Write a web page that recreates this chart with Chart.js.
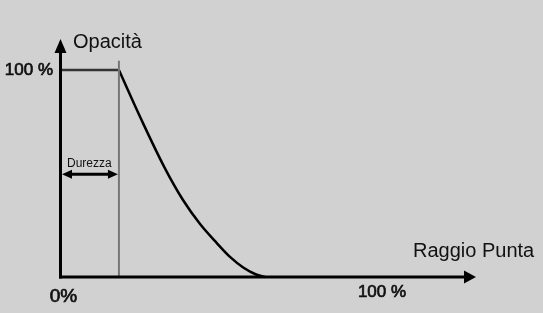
<!DOCTYPE html>
<html><head><meta charset="utf-8">
<script src="https://cdn.jsdelivr.net/npm/chart.js@4"></script>
<style>html,body{margin:0;padding:0;background:#d1d1d1;overflow:hidden}#wrap{width:543px;height:313px}</style>
</head><body><div id="wrap"><canvas id="c" width="543" height="313"></canvas></div>
<script>
// ---- data (percent of radius / percent of opacity) ----
const plateauX = [0, 18.3];
const plateauY = [100, 100];
const curveX = [18.3, 25.4, 32.6, 38.2, 43.5, 48.7, 52.8, 56.9, 60.9, 63.7];
const curveY = [100, 75.6, 52.5, 37.2, 25.6, 16.4, 9.7, 4.6, 1.2, 0];
const hardnessX = [18.3, 18.3];
const hardnessY = [0, 104.5];
const hardnessArrowY = 49.6;
const xTickValues = [0, 100];
const xTickLabels = ['0%', '100 %'];
const yTickValues = [100];
const yTickLabels = ['100 %'];
const xAxisTitle = 'Raggio Punta';
const yAxisTitle = 'Opacità';
const hardnessLabel = 'Durezza';

const pts = (xs, ys) => xs.map((x, i) => ({x, y: ys[i]}));
const FONT = '"Liberation Sans", Arial, sans-serif';

function medText(ctx, t, px, py) {
  ctx.fillText(t, px, py);
  ctx.lineWidth = 0.7; ctx.strokeStyle = ctx.fillStyle;
  ctx.strokeText(t, px, py);
}

const axesPlugin = {
  id: 'axesPlugin',
  afterDatasetsDraw(chart) {
    const {ctx, chartArea: a, scales: {x, y}} = chart;
    const x0 = x.getPixelForValue(0) + 0.5;
    const y0 = y.getPixelForValue(0);
    ctx.save();
    ctx.fillStyle = '#000'; ctx.strokeStyle = '#000'; ctx.lineWidth = 3;
    // y axis
    ctx.beginPath(); ctx.moveTo(x0, y0 + 1.5); ctx.lineTo(x0, a.top + 12); ctx.stroke();
    ctx.beginPath(); ctx.moveTo(x0, a.top); ctx.lineTo(x0 - 6, a.top + 14); ctx.lineTo(x0 + 6, a.top + 14); ctx.closePath(); ctx.fill();
    // x axis
    ctx.beginPath(); ctx.moveTo(x0 - 1.5, y0); ctx.lineTo(a.right - 10, y0); ctx.stroke();
    ctx.beginPath(); ctx.moveTo(a.right, y0); ctx.lineTo(a.right - 12, y0 - 6.5); ctx.lineTo(a.right - 12, y0 + 6.5); ctx.closePath(); ctx.fill();
    // hardness double arrow
    const hy = y.getPixelForValue(hardnessArrowY);
    const hx = x.getPixelForValue(hardnessX[0]) - 1;
    const hl = x0 + 1.5;
    ctx.beginPath(); ctx.moveTo(hl + 6, hy); ctx.lineTo(hx - 6, hy); ctx.stroke();
    ctx.beginPath(); ctx.moveTo(hl, hy); ctx.lineTo(hl + 10, hy - 4.5); ctx.lineTo(hl + 10, hy + 4.5); ctx.closePath(); ctx.fill();
    ctx.beginPath(); ctx.moveTo(hx, hy); ctx.lineTo(hx - 10, hy - 4.5); ctx.lineTo(hx - 10, hy + 4.5); ctx.closePath(); ctx.fill();
    // texts
    ctx.fillStyle = '#111';
    ctx.textBaseline = 'alphabetic';
    ctx.font = '12px ' + FONT; ctx.textAlign = 'left';
    ctx.fillText(hardnessLabel, hl + 5, hy - 7.5);
    ctx.font = '20px ' + FONT;
    ctx.fillText(yAxisTitle, x0 + 12.5, a.top + 9);
    ctx.fillText(xAxisTitle, a.right - 63, y0 - 20.5);
    // y ticks
    ctx.font = '17px ' + FONT; ctx.textAlign = 'right';
    yTickValues.forEach((v, i) => medText(ctx, yTickLabels[i], x0 - 7.5, y.getPixelForValue(v) + 4.5));
    // x ticks
    ctx.textAlign = 'center';
    xTickValues.forEach((v, i) => {
      ctx.font = (i === 0 ? '19px ' : '17px ') + FONT;
      const px = x.getPixelForValue(v) + (i === 0 ? 3.5 : 0);
      medText(ctx, xTickLabels[i], px, y0 + (i === 0 ? 25 : 20));
    });
    ctx.restore();
  }
};

new Chart(document.getElementById('c'), {
  type: 'scatter',
  data: {
    datasets: [
      {data: pts(hardnessX, hardnessY), showLine: true, borderColor: '#767676', borderWidth: 2, pointRadius: 0, clip: false},
      {data: pts(plateauX, plateauY), showLine: true, borderColor: '#333', borderWidth: 2.5, pointRadius: 0, clip: false},
      {data: pts(curveX, curveY), showLine: true, borderColor: '#000', borderWidth: 2.5, pointRadius: 0, cubicInterpolationMode: 'monotone', clip: false}
    ]
  },
  options: {
    responsive: false, animation: false, devicePixelRatio: 1,
    layout: {padding: {left: 60, right: 67, top: 39, bottom: 36}},
    plugins: {legend: {display: false}, tooltip: {enabled: false}},
    scales: {
      x: {type: 'linear', min: 0, max: 129.2, display: false},
      y: {type: 'linear', min: 0, max: 115, display: false}
    }
  },
  plugins: [axesPlugin]
});
</script></body></html>
